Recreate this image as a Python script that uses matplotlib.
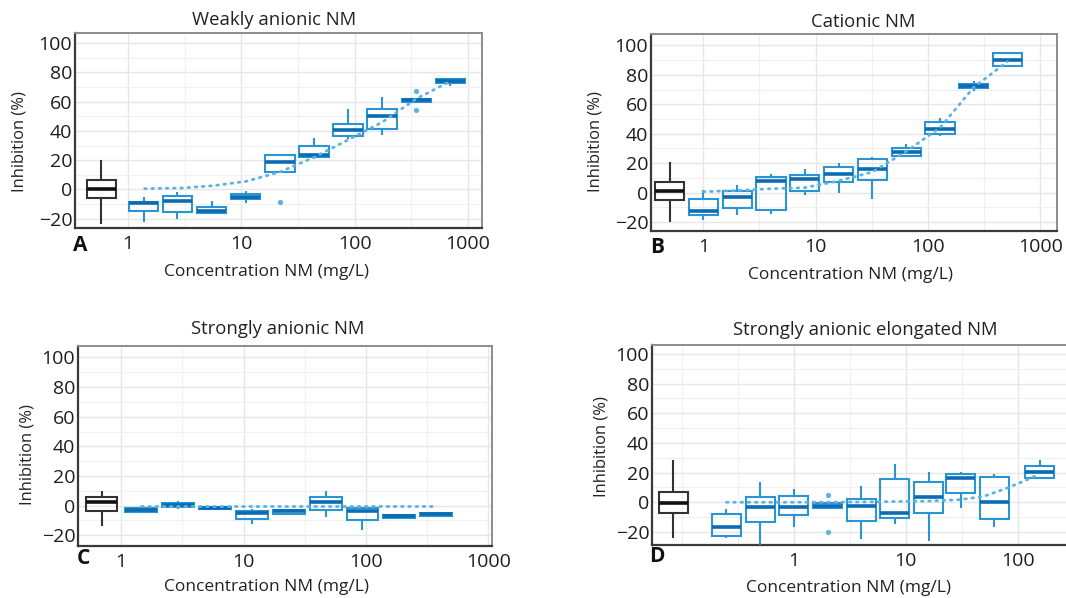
import numpy as np
import matplotlib
matplotlib.use("Agg")
import matplotlib.pyplot as plt
from matplotlib.patches import Rectangle

plt.rcParams['font.family'] = ['Open Sans', 'DejaVu Sans']

# ---- data: [whisker low, q1, median, q3, whisker high]
# A - weakly anionic
ctrl_x_a = 0.58
ctrl_a = [-23.6, -6.0, 0.0, 6.4, 20.0]
conc_a = [1.37, 2.73, 5.47, 10.9, 21.9, 43.8, 87.5, 175, 350, 700]
lo_a = [-22.0, -20.5, -16.4, -9.5, 12.0, 20.5, 34.5, 37.5, 59.8, 70.7]
q1_a = [-14.5, -15.7, -16.4, -6.8, 12.0, 22.3, 36.8, 41.0, 59.8, 72.7]
med_a = [-9.5, -8.0, -14.5, -5.0, 18.6, 23.2, 40.5, 50.0, 61.0, 74.0]
q3_a = [-8.6, -4.5, -12.0, -3.2, 23.4, 29.5, 45.0, 55.0, 62.0, 75.5]
hi_a = [-5.0, -2.0, -8.0, -1.0, 24.5, 35.5, 55.0, 63.0, 62.0, 76.4]
out_x_a = [21.9, 350, 350]
out_y_a = [-8.6, 67.3, 54.5]
fit_x_a = [1.4, 3, 5.6, 11, 22, 44, 88, 175, 350, 700]
fit_y_a = [0.5, 1.0, 2.5, 5.5, 12, 22, 34, 46, 62, 74]

# B - cationic
ctrl_x_b = 0.5
ctrl_b = [-19.7, -5.0, 1.4, 7.5, 21.0]
conc_b = [1, 2, 4, 8, 16, 32, 64, 128, 256, 512]
lo_b = [-18.5, -15.2, -14.5, -1.6, 0.0, -4.5, 24.0, 38.5, 69.2, 85.5]
q1_b = [-15.2, -10.2, -11.8, 1.1, 7.0, 8.6, 24.9, 40.0, 70.8, 86.2]
med_b = [-12.2, -3.2, 8.1, 9.3, 12.7, 15.8, 27.8, 43.4, 72.4, 90.0]
q3_b = [-4.3, 1.4, 10.9, 12.2, 17.6, 22.6, 30.3, 48.0, 74.0, 94.6]
hi_b = [1.8, 5.2, 13.0, 15.8, 20.4, 24.0, 32.8, 51.0, 75.8, 94.6]
fit_x_b = [1, 2, 4, 8, 16, 32, 64, 128, 256, 512]
fit_y_b = [0.7, 1.5, 2.7, 3.4, 8, 14, 28, 44, 71.5, 89]

# C - strongly anionic
ctrl_x_c = 0.69
ctrl_c = [-13.7, -3.6, 2.7, 5.6, 10.0]
conc_c = [1.46, 2.93, 5.86, 11.7, 23.4, 46.9, 93.8, 187.5, 375]
lo_c = [-4.7, -2.5, -2.5, -12.4, -6.5, -7.4, -16.4, -8.5, -7.0]
q1_c = [-4.3, -1.1, -2.5, -8.8, -5.6, -2.9, -9.7, -8.1, -6.7]
med_c = [-2.9, 0.4, -1.6, -5.2, -3.8, 2.5, -3.4, -7.0, -5.8]
q3_c = [-1.8, 2.0, -0.7, -3.4, -2.9, 6.1, -1.8, -6.3, -5.2]
hi_c = [-1.1, 3.1, -0.7, -2.5, -2.5, 9.7, -0.7, -5.8, -4.9]
fit_x_c = [1.46, 10, 100, 375]
fit_y_c = [0.0, 0.0, 0.0, 0.0]

# D - strongly anionic elongated
ctrl_x_d = 0.084
ctrl_d = [-24.3, -7.4, -0.2, 6.7, 28.5]
conc_d = [0.25, 0.5, 1, 2, 4, 8, 16, 31, 62, 157]
lo_d = [-24.3, -28.8, -16.4, -4.0, -25.0, -14.6, -25.8, -4.0, -16.9, 16.2]
q1_d = [-22.7, -13.5, -8.5, -4.0, -12.6, -10.3, -7.0, 6.0, -11.5, 16.2]
med_d = [-16.4, -3.4, -2.9, -2.5, -2.2, -7.4, 3.8, 16.2, 0.4, 20.2]
q3_d = [-8.1, 3.8, 4.5, -0.7, 2.0, 15.7, 13.9, 18.9, 17.3, 24.7]
hi_d = [-4.7, 13.9, 9.0, -0.7, 11.0, 25.8, 20.7, 20.7, 19.0, 28.5]
out_x_d = [2, 2]
out_y_d = [5.0, -19.8]
fit_x_d = [0.25, 1, 4, 16, 31, 50, 80, 120, 157]
fit_y_d = [0.0, 0.0, 0.2, 0.8, 1.8, 4, 9.5, 15, 19]

BLUE = '#2b95d3'
DARKBLUE = '#0b6cb3'
FITBLUE = '#5cb3e3'
W = 10 ** 0.13   # half box width, in log10 units

W_PX, H_PX = 1066, 598


def px(x, y):
    return x / W_PX, 1 - y / H_PX


def draw_box(ax, x, lo, q1, med, q3, hi, col, mcol):
    ax.vlines(x, lo, q1, color=col, lw=1.5, zorder=3)
    ax.vlines(x, q3, hi, color=col, lw=1.5, zorder=3)
    ax.add_patch(Rectangle((x / W, q1), x * W - x / W, q3 - q1, fill=False,
                           ec=col, lw=1.5, zorder=3))
    ax.hlines(med, x / W, x * W, color=mcol, lw=2.6, zorder=4)


def setup(ax, xlim, ylim, xt, minors):
    ax.set_xscale('log')
    ax.set_xticks(xt)
    ax.set_xticklabels([str(t) for t in xt])
    ax.set_xticks(minors, minor=True)
    ax.set_xticklabels([], minor=True)
    ax.set_yticks(np.arange(-20, 101, 20))
    ax.set_yticks(np.arange(-10, 100, 20), minor=True)
    ax.set_xlim(xlim)
    ax.set_ylim(ylim)
    ax.grid(True, which='major', color='#e6e6e6', lw=1.0, zorder=0)
    ax.grid(True, which='minor', color='#f0f0f0', lw=0.8, zorder=0)
    ax.tick_params(which='both', length=0, labelsize=14, colors='#1e1e1e')
    ax.tick_params(axis='x', pad=5)
    ax.tick_params(axis='y', pad=2)
    for s in ['top', 'right']:
        ax.spines[s].set_color('#8c8c8c')
        ax.spines[s].set_linewidth(1.4)
    for s in ['left', 'bottom']:
        ax.spines[s].set_color('#3a3a3a')
        ax.spines[s].set_linewidth(1.6)
    ax.set_axisbelow(True)


def panel(ax, cx, ctrl, conc, lo, q1, med, q3, hi, fx, fy, ox=None, oy=None):
    draw_box(ax, cx, *ctrl, '#333333', '#111111')
    for i in range(len(conc)):
        draw_box(ax, conc[i], lo[i], q1[i], med[i], q3[i], hi[i], BLUE, DARKBLUE)
    ax.plot(fx, fy, color=FITBLUE, lw=2, ls=(0, (0.6, 2.0)),
            dash_capstyle='round', zorder=5)
    if ox is not None:
        ax.scatter(ox, oy, s=14, color=FITBLUE, zorder=5, lw=0)


fig = plt.figure(figsize=(10.66, 5.98), dpi=100)

half = [10 ** (k + 0.5) for k in range(-2, 4)]

ax_a = fig.add_axes([75 / W_PX, 1 - 228 / H_PX, 407 / W_PX, 195 / H_PX])
setup(ax_a, (0.34, 1331), (-26.4, 107), [1, 10, 100, 1000], half)
panel(ax_a, ctrl_x_a, ctrl_a, conc_a, lo_a, q1_a, med_a, q3_a, hi_a,
      fit_x_a, fit_y_a, out_x_a, out_y_a)

ax_b = fig.add_axes([651 / W_PX, 1 - 231 / H_PX, 406 / W_PX, 197 / H_PX])
setup(ax_b, (0.342, 1413), (-26, 107.7), [1, 10, 100, 1000], half)
panel(ax_b, ctrl_x_b, ctrl_b, conc_b, lo_b, q1_b, med_b, q3_b, hi_b,
      fit_x_b, fit_y_b)

ax_c = fig.add_axes([78 / W_PX, 1 - 546 / H_PX, 414 / W_PX, 200 / H_PX])
setup(ax_c, (0.443, 1075), (-27.2, 107.7), [1, 10, 100, 1000], half)
panel(ax_c, ctrl_x_c, ctrl_c, conc_c, lo_c, q1_c, med_c, q3_c, hi_c,
      fit_x_c, fit_y_c)

ax_d = fig.add_axes([652 / W_PX, 1 - 545 / H_PX, 416 / W_PX, 200 / H_PX])
setup(ax_d, (0.054, 282), (-28.8, 106), [1, 10, 100], half + [0.1])
panel(ax_d, ctrl_x_d, ctrl_d, conc_d, lo_d, q1_d, med_d, q3_d, hi_d,
      fit_x_d, fit_y_d, out_x_d, out_y_d)

titles = ["Weakly anionic NM", "Cationic NM", "Strongly anionic NM",
          "Strongly anionic elongated NM"]
title_pos = [(274, 20), (863, 22), (278, 329), (865, 330)]
xlab_pos = [(266, 272), (850, 275), (266, 587), (848, 588)]
ylab_pos = [(20, 142), (595, 142), (27, 455), (602, 447)]
letters = ["A", "B", "C", "D"]
letter_pos = [(80, 246), (657, 247), (83, 559), (657, 557)]

for i in range(4):
    fig.text(*px(*title_pos[i]), titles[i], ha='center', va='center',
             fontsize=13.3, color='#222222')
    fig.text(*px(*xlab_pos[i]), "Concentration NM (mg/L)", ha='center',
             va='center', fontsize=12.5, color='#222222')
    fig.text(*px(*ylab_pos[i]), "Inhibition (%)", ha='center', va='center',
             rotation=90, fontsize=11.9, color='#222222')
    fig.text(*px(*letter_pos[i]), letters[i], ha='center', va='center',
             fontsize=15, fontweight='bold', color='#111111')

fig.savefig("out.png", dpi=100)
